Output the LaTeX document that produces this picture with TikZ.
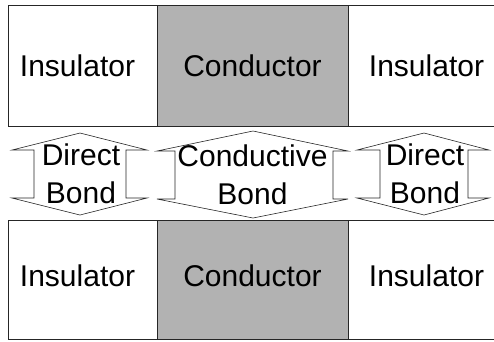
\documentclass[tikz,border=0pt]{standalone}
\usepackage{fontspec}
\setmainfont{Liberation Sans}
\begin{document}
\begin{tikzpicture}[x=1pt,y=-1pt,
  cell/.style={draw=black!85,line width=0.9pt},
  condcell/.style={cell,fill=black!30},
  bondshape/.style={draw=black!85,line width=0.6pt,line join=miter},
  lbl/.style={font=\fontsize{30}{37.5}\selectfont,inner sep=0pt,anchor=base},
  bondlbl/.style={font=\fontsize{30}{37.5}\selectfont,inner sep=0pt,align=center}]
\useasboundingbox (0,0) rectangle (494,341);
% top row
\draw[cell] (8,5) rectangle (510,126);
\draw[condcell] (157,5) rectangle (348,126);
\node[lbl] (ins1) at (77.5,76) {Insulator};
\node[lbl] (con1) at (252.5,76) {Conductor};
\node[lbl] (ins2) at (426.5,76) {Insulator};
% bottom row
\draw[cell] (8,220) rectangle (510,339);
\draw[condcell] (157,220) rectangle (348,339);
\node[lbl] (ins3) at (77.5,286) {Insulator};
\node[lbl] (con2) at (252.5,286) {Conductor};
\node[lbl] (ins4) at (426.5,286) {Insulator};
% bonds
\draw[bondshape] (80,133) -- (12,150) -- (34,150) -- (34,198) -- (12,198) -- (80,215)
  -- (147,198) -- (126,198) -- (126,150) -- (147,150) -- cycle;
\draw[bondshape] (253,131) -- (157,151) -- (175,151) -- (175,199) -- (157,199) -- (253,218)
  -- (348,199) -- (333,199) -- (333,151) -- (348,151) -- cycle;
\draw[bondshape] (424,133) -- (357,150) -- (380,150) -- (380,198) -- (357,198) -- (424,215)
  -- (489,198) -- (468,198) -- (468,150) -- (489,150) -- cycle;
\node[bondlbl] (b1) at (81,174) {Direct\\Bond};
\node[bondlbl] (b2) at (252.5,175) {Conductive\\Bond};
\node[bondlbl] (b3) at (425,174) {Direct\\Bond};
\end{tikzpicture}
\end{document}
